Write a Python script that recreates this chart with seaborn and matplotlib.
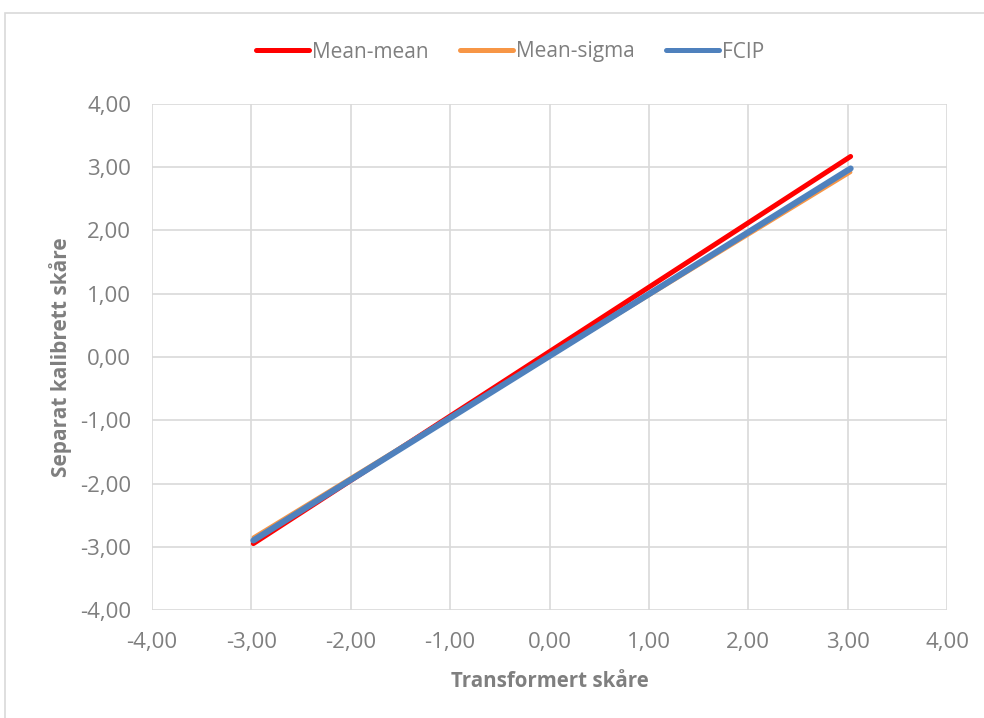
import matplotlib
matplotlib.use("Agg")
import matplotlib.pyplot as plt
import seaborn as sns
import pandas as pd
from matplotlib.patches import Rectangle

# verdier lest av figuren (endepunkter for de tre linjene)
transformert = [-2.98, 3.03]
mean_mean = [-2.95, 3.17]
mean_sigma = [-2.85, 2.92]
fcip = [-2.90, 2.98]

serier = ["Mean-mean", "Mean-sigma", "FCIP"]
farger = {"Mean-mean": "#ff0000", "Mean-sigma": "#f79646", "FCIP": "#4f81bd"}
bredder = {"Mean-mean": 3.6, "Mean-sigma": 2.6, "FCIP": 4.4}
ticks = [-4, -3, -2, -1, 0, 1, 2, 3, 4]

df = pd.DataFrame({
    "x": transformert * 3,
    "y": mean_mean + mean_sigma + fcip,
    "serie": [s for s in serier for _ in transformert],
})

sns.set_theme(style="white")
plt.rcParams['font.family'] = ['Open Sans', 'DejaVu Sans']
grå = "#7f7f7f"

fig = plt.figure(figsize=(9.84, 7.18), dpi=100)
ax = fig.add_axes([0.1545, 0.1504, 0.8079, 0.7048])

for s in serier:
    d = df[df["serie"] == s]
    sns.lineplot(data=d, x="x", y="y", ax=ax, color=farger[s], linewidth=bredder[s],
                 label=s, solid_capstyle="round")

ax.set_xlim(-4, 4)
ax.set_ylim(-4, 4)
ax.set_xticks(ticks)
ax.set_yticks(ticks)
fmt = lambda v: f"{v:.2f}".replace(".", ",")
ax.set_xticklabels([fmt(t) for t in ticks])
ax.set_yticklabels([fmt(t) for t in ticks])
ax.tick_params(axis="both", colors=grå, labelsize=16, length=0)
ax.tick_params(axis="y", pad=15)
ax.tick_params(axis="x", pad=16)
ax.grid(True, color="#d9d9d9", linewidth=1.2)
for sp in ax.spines.values():
    sp.set_visible(False)
ax.set_axisbelow(True)

ax.set_xlabel("Transformert skåre", color=grå, fontsize=14.8, fontweight="bold", labelpad=13)
ax.set_ylabel("Separat kalibrett skåre", color=grå, fontsize=15, fontweight="bold", labelpad=6)

handles, labels = ax.get_legend_handles_labels()
ax.get_legend().remove()
leg = fig.legend(handles, labels, loc="center", bbox_to_anchor=(510 / 984, 1 - 52 / 718), ncol=3,
                 frameon=False, fontsize=15, handlelength=2.55, handletextpad=0.15, columnspacing=1.5)
for t in leg.get_texts():
    t.set_color(grå)
for h in leg.legend_handles:
    h.set_linewidth(3.6)

fig.patches.append(Rectangle((5 / 984, -0.1), 1.1, 1 - 13 / 718 + 0.1, transform=fig.transFigure,
                             fill=False, edgecolor="#d9d9d9", linewidth=1.2))

fig.savefig("out.png", dpi=100)
